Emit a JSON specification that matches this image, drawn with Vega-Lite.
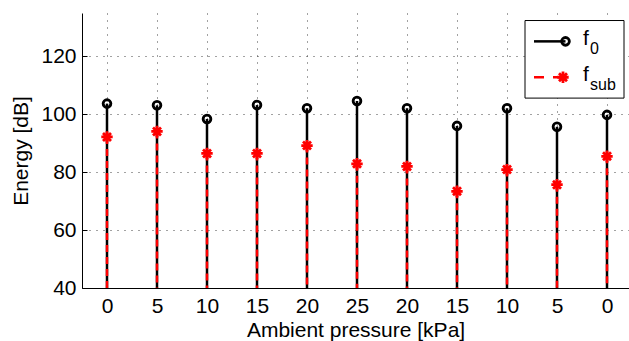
{
  "$schema": "https://vega.github.io/schema/vega-lite/v6.json",
  "width": 547,
  "height": 275,
  "autosize": {"type": "none"},
  "padding": {"left": 82, "top": 13, "right": 0, "bottom": 53},
  "background": "white",
  "config": {
    "view": {"stroke": null},
    "font": "Liberation Sans",
    "axis": {
      "domainColor": "black",
      "domainWidth": 1,
      "tickColor": "black",
      "tickSize": -5,
      "tickWidth": 1,
      "labelFont": "Liberation Sans",
      "labelFontSize": 21,
      "labelColor": "black",
      "titleFont": "Liberation Sans",
      "titleFontSize": 21,
      "titleFontWeight": "normal",
      "titleColor": "black",
      "grid": true,
      "gridColor": "#444444",
      "gridDash": [1, 6],
      "gridWidth": 1,
      "gridOpacity": 1
    }
  },
  "data": {
    "values": [
      {"idx": 1, "pressure": 0, "f0": 103.7, "fsub": 92.2},
      {"idx": 2, "pressure": 5, "f0": 103.1, "fsub": 94.1},
      {"idx": 3, "pressure": 10, "f0": 98.4, "fsub": 86.5},
      {"idx": 4, "pressure": 15, "f0": 103.2, "fsub": 86.5},
      {"idx": 5, "pressure": 20, "f0": 102.1, "fsub": 89.2},
      {"idx": 6, "pressure": 25, "f0": 104.6, "fsub": 82.9},
      {"idx": 7, "pressure": 20, "f0": 102.1, "fsub": 82.0},
      {"idx": 8, "pressure": 15, "f0": 96.0, "fsub": 73.4},
      {"idx": 9, "pressure": 10, "f0": 102.1, "fsub": 80.9},
      {"idx": 10, "pressure": 5, "f0": 95.7, "fsub": 75.7},
      {"idx": 11, "pressure": 0, "f0": 99.8, "fsub": 85.5}
    ]
  },
  "layer": [
    {
      "mark": {"type": "rule", "color": "black", "strokeWidth": 2.5},
      "encoding": {
        "x": {
          "field": "idx", "type": "quantitative",
          "scale": {"domain": [0.5, 11.44], "nice": false, "zero": false},
          "axis": {
            "title": "Ambient pressure [kPa]",
            "values": [1, 2, 3, 4, 5, 6, 7, 8, 9, 10, 11],
            "labelExpr": "['0','5','10','15','20','25','20','15','10','5','0'][datum.value - 1]",
            "labelPadding": 12,
            "titlePadding": 3
          }
        },
        "y": {
          "field": "f0", "type": "quantitative",
          "scale": {"domain": [40, 135], "nice": false, "zero": false},
          "axis": {
            "title": "Energy [dB]",
            "values": [40, 60, 80, 100, 120],
            "labelPadding": 11,
            "titlePadding": 9
          }
        },
        "y2": {"datum": 40}
      }
    },
    {
      "mark": {"type": "rule", "color": "#ff0000", "strokeWidth": 2.5, "strokeDash": [7, 5]},
      "encoding": {
        "x": {"field": "idx", "type": "quantitative"},
        "y": {"field": "fsub", "type": "quantitative"},
        "y2": {"datum": 40}
      }
    },
    {
      "mark": {"type": "point", "shape": "circle", "filled": false, "stroke": "black", "strokeWidth": 2.8, "size": 60, "opacity": 1},
      "encoding": {
        "x": {"field": "idx", "type": "quantitative"},
        "y": {"field": "f0", "type": "quantitative"}
      }
    },
    {
      "mark": {"type": "point", "shape": "M-1,0L1,0M0,-1L0,1M-0.7,-0.7L0.7,0.7M-0.7,0.7L0.7,-0.7", "filled": false, "stroke": "#ff0000", "strokeWidth": 2.8, "size": 130, "opacity": 1},
      "encoding": {
        "x": {"field": "idx", "type": "quantitative"},
        "y": {"field": "fsub", "type": "quantitative"}
      }
    },
    {
      "data": {"values": [{"entry": "box"}]},
      "mark": {"type": "rect", "fill": "white", "stroke": "black", "strokeWidth": 1},
      "encoding": {
        "x": {"datum": 9.36}, "x2": {"datum": 11.34},
        "y": {"datum": 132.4}, "y2": {"datum": 105.6}
      }
    },
    {
      "data": {"values": [{"entry": "f0"}]},
      "mark": {"type": "rule", "color": "black", "strokeWidth": 2.5},
      "encoding": {
        "x": {"datum": 9.54}, "x2": {"datum": 10.17},
        "y": {"datum": 125.2}
      }
    },
    {
      "data": {"values": [{"entry": "f0"}]},
      "mark": {"type": "point", "shape": "circle", "filled": false, "stroke": "black", "strokeWidth": 2.8, "size": 60, "opacity": 1},
      "encoding": {
        "x": {"datum": 10.17},
        "y": {"datum": 125.2}
      }
    },
    {
      "data": {"values": [{"entry": "fsub"}]},
      "mark": {"type": "rule", "color": "#ff0000", "strokeWidth": 2.5, "strokeDash": [10, 9]},
      "encoding": {
        "x": {"datum": 9.54}, "x2": {"datum": 10.12},
        "y": {"datum": 112.8}
      }
    },
    {
      "data": {"values": [{"entry": "fsub"}]},
      "mark": {"type": "point", "shape": "M-1,0L1,0M0,-1L0,1M-0.7,-0.7L0.7,0.7M-0.7,0.7L0.7,-0.7", "filled": false, "stroke": "#ff0000", "strokeWidth": 2.8, "size": 130, "opacity": 1},
      "encoding": {
        "x": {"datum": 10.12},
        "y": {"datum": 112.8}
      }
    },
    {
      "data": {"values": [{"entry": "f0"}]},
      "mark": {"type": "text", "text": "f", "align": "left", "baseline": "alphabetic", "fontSize": 21, "font": "Liberation Sans", "color": "black"},
      "encoding": {"x": {"datum": 10.52}, "y": {"datum": 124.05}}
    },
    {
      "data": {"values": [{"entry": "f0"}]},
      "mark": {"type": "text", "text": "0", "align": "left", "baseline": "alphabetic", "fontSize": 16, "font": "Liberation Sans", "color": "black"},
      "encoding": {"x": {"datum": 10.66}, "y": {"datum": 120.8}}
    },
    {
      "data": {"values": [{"entry": "fsub"}]},
      "mark": {"type": "text", "text": "f", "align": "left", "baseline": "alphabetic", "fontSize": 21, "font": "Liberation Sans", "color": "black"},
      "encoding": {"x": {"datum": 10.52}, "y": {"datum": 111.4}}
    },
    {
      "data": {"values": [{"entry": "fsub"}]},
      "mark": {"type": "text", "text": "sub", "align": "left", "baseline": "alphabetic", "fontSize": 16, "font": "Liberation Sans", "color": "black"},
      "encoding": {"x": {"datum": 10.66}, "y": {"datum": 108.5}}
    }
  ]
}
